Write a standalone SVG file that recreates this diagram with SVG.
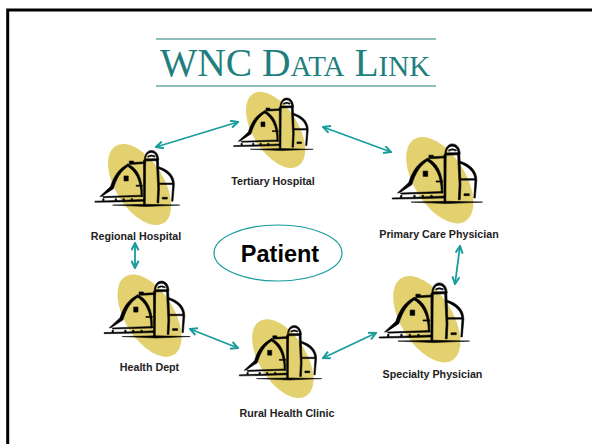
<svg xmlns="http://www.w3.org/2000/svg" width="592" height="444" viewBox="0 0 592 444">
<style>
.lbl{font-family:"Liberation Sans",Arial,sans-serif;font-size:10.7px;font-weight:700;text-anchor:middle;fill:#222}
.c{fill:none;stroke:#189c9c;stroke-width:1.8;marker-start:url(#h);marker-end:url(#h)}
.i{stroke:#000;stroke-width:1.6;stroke-linejoin:round}
</style>
<defs>
<marker id="h" viewBox="0 0 10 10" refX="9" refY="5" markerWidth="9" markerHeight="9" orient="auto-start-reverse" markerUnits="userSpaceOnUse"><path d="M1 1L9 5L1 9" fill="none" stroke="#189c9c" stroke-width="2.200"/></marker>
<g id="barn">
<ellipse cx="182" cy="138" rx="68" ry="128" transform="rotate(-32 182 138)" fill="#e3d16f"/>
<g class="i">
<path d="M70 172L100 144C110 112 125 92 150 80L154 84C130 98 118 118 108 150L76 171Z"/>
<path d="M148 80C175 90 192 120 190 172L186 172C186 125 170 100 146 85Z"/>
<path d="M153 72H165V76L198 74V79L165 81H153Z"/>
<path d="M193 70H199L198 195H193Z"/>
<path d="M229 66H235L238 150L236 190H231L233 150Z"/>
<path d="M195 70C196 52 204 42 215 42C227 42 235 52 236 68L231 68C230 56 224 48 215 48C206 48 200 56 199 66L232 65V71L195 72Z"/>
<path d="M205 58Q215 52 226 58L225 61Q215 56 206 61Z"/>
<path d="M236 88C262 96 280 112 280 138L276 185H272L275 138C274 116 258 102 235 93Z"/>
<path d="M235 134H277V138H235Z"/><path d="M172 140H190V143H172Z"/>
<path d="M56 185L118 183L195 180V185L120 187L56 188Z"/>
<path d="M78 172L190 168V172L80 175Z"/>
<path d="M106 196L200 194L295 196L200 200Z"/>
<rect x="138" y="114" width="12" height="14"/><rect x="246" y="174" width="14" height="5"/>
<rect x="78" y="178" width="4" height="6"/><rect x="113" y="178" width="4" height="6"/><rect x="135" y="178" width="4" height="6"/><rect x="158" y="178" width="4" height="6"/>
</g>
</g>
</defs>
<rect width="592" height="444" fill="#fff"/>
<path id="frame" d="M7.700 444V10H592" fill="none" stroke="#000" stroke-width="3"/>
<g id="title">
<path d="M156 39H436M156 86H436" stroke="#8fbdbd" stroke-width="2"/>
<text x="295" y="76" font-family="Liberation Serif,serif" font-size="39.500" fill="#1f7f7f" text-anchor="middle">WNC D<tspan font-size="29">ATA</tspan> L<tspan font-size="29">INK</tspan></text>
</g>
<g id="connectors">
<path class="c" d="M156 147L238 122"/><path class="c" d="M323 127L391 152"/><path class="c" d="M460 246L455 284"/>
<path class="c" d="M376 333L323 358"/><path class="c" d="M238 348L190 329"/><path class="c" d="M135 268L135 243"/>
</g>
<g id="tertiary"><use href="#barn" transform="translate(215 84) scale(.333)"/><text class="lbl" x="273" y="185">Tertiary Hospital</text></g>
<g id="regional"><use href="#barn" transform="translate(75 135.500) scale(.355)"/><text class="lbl" x="136" y="240">Regional Hospital</text></g>
<g id="primary"><use href="#barn" transform="translate(371 128) scale(.378)"/><text class="lbl" x="439" y="238">Primary Care Physician</text></g>
<g id="specialty"><use href="#barn" transform="translate(358 267) scale(.378)"/><text class="lbl" x="432.500" y="378">Specialty Physician</text></g>
<g id="health"><use href="#barn" transform="translate(84 266) scale(.36)"/><text class="lbl" x="149.500" y="371">Health Dept</text></g>
<g id="rural"><use href="#barn" transform="translate(220 311) scale(.345)"/><text class="lbl" x="287" y="417">Rural Health Clinic</text></g>
<g id="patient"><ellipse cx="278" cy="253" rx="64" ry="28" fill="#fff" stroke="#189c9c" stroke-width="1.2"/><text x="280" y="262" font-family="Liberation Sans,Arial,sans-serif" font-size="23.500" font-weight="700" text-anchor="middle">Patient</text></g>
</svg>
